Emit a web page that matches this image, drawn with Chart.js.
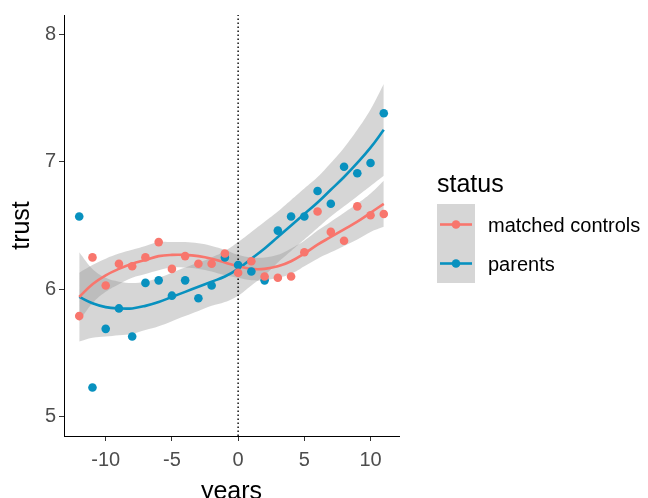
<!DOCTYPE html>
<html>
<head>
<meta charset="utf-8">
<script src="https://cdn.jsdelivr.net/npm/chart.js@4.4.1/dist/chart.umd.min.js"></script>
<style>
  html, body { margin: 0; padding: 0; background: #ffffff; }
  #myChart { display: block; }
</style>
</head>
<body>
<canvas id="myChart" width="648" height="498"></canvas>
<script>
var years = [-12, -11, -10, -9, -8, -7, -6, -5, -4, -3, -2, -1, 0, 1, 2, 3, 4, 5, 6, 7, 8, 9, 10, 11];

// raw yearly means
var controls = [5.79, 6.25, 6.03, 6.20, 6.18, 6.25, 6.37, 6.16, 6.26, 6.20, 6.20, 6.28, 6.13, 6.22, 6.10, 6.09, 6.10, 6.29, 6.61, 6.45, 6.38, 6.65, 6.58, 6.59];
var parents  = [6.57, 5.23, 5.69, 5.85, 5.63, 6.05, 6.07, 5.95, 6.07, 5.93, 6.03, 6.25, 6.19, 6.14, 6.07, 6.46, 6.57, 6.57, 6.77, 6.67, 6.96, 6.91, 6.99, 7.38];

// loess fits and their confidence bands
var controlsFit = [5.94, 6.04, 6.11, 6.16, 6.20, 6.23, 6.26, 6.27, 6.27, 6.26, 6.24, 6.21, 6.18, 6.16, 6.16, 6.18, 6.22, 6.28, 6.35, 6.41, 6.47, 6.53, 6.60, 6.67];
var controlsLo  = [5.75, 5.89, 5.98, 6.04, 6.09, 6.12, 6.15, 6.17, 6.17, 6.16, 6.14, 6.11, 6.09, 6.07, 6.07, 6.09, 6.12, 6.18, 6.24, 6.29, 6.34, 6.39, 6.45, 6.49];
var controlsHi  = [6.13, 6.19, 6.24, 6.28, 6.31, 6.34, 6.37, 6.37, 6.37, 6.36, 6.34, 6.31, 6.27, 6.25, 6.25, 6.27, 6.32, 6.38, 6.46, 6.53, 6.60, 6.67, 6.75, 6.85];

var parentsFit = [5.94, 5.89, 5.86, 5.85, 5.85, 5.87, 5.90, 5.94, 5.98, 6.02, 6.06, 6.10, 6.16, 6.24, 6.32, 6.41, 6.50, 6.59, 6.68, 6.78, 6.88, 6.99, 7.11, 7.25];
var parentsLo  = [5.59, 5.62, 5.63, 5.64, 5.65, 5.68, 5.71, 5.75, 5.79, 5.83, 5.87, 5.90, 5.95, 6.03, 6.11, 6.21, 6.30, 6.39, 6.48, 6.57, 6.65, 6.73, 6.81, 6.89];
var parentsHi  = [6.29, 6.16, 6.09, 6.06, 6.05, 6.06, 6.09, 6.13, 6.17, 6.21, 6.25, 6.30, 6.37, 6.45, 6.53, 6.61, 6.70, 6.79, 6.88, 6.99, 7.11, 7.25, 7.41, 7.61];

var seriesNames = ["matched controls", "parents"];
var seriesColors = ["#F8766D", "#0891BF"];
var xTicks = [-10, -5, 0, 5, 10];
var yTicks = [5, 6, 7, 8];
var xRange = [-13.15, 12.15];
var yRange = [4.85, 8.15];

var font = "'Liberation Sans', Arial, sans-serif";
var bandColor = "rgba(153,153,153,0.4)";

function pts(ys) {
    return years.map(function(x, i){ return {x: x, y: ys[i]}; });
}

function band(hi, lo, ord) {
    return [
        { data: pts(hi), borderWidth: 0, pointRadius: 0, tension: 0.4,
          backgroundColor: bandColor, fill: '+1', order: ord },
        { data: pts(lo), borderWidth: 0, pointRadius: 0, tension: 0.4,
          backgroundColor: bandColor, fill: false, order: ord }
    ];
}

function fitLine(ys, col) {
    return { data: pts(ys), borderColor: col, borderWidth: 2.6, pointRadius: 0,
             tension: 0.4, fill: false, order: 2 };
}

function dots(ys, col) {
    return { data: pts(ys), showLine: false, pointRadius: 4.3, borderWidth: 0,
             pointBackgroundColor: col, backgroundColor: col, order: 1 };
}

var datasets = []
    .concat(band(controlsHi, controlsLo, 5))
    .concat(band(parentsHi, parentsLo, 5))
    .concat([{
        data: [{x: 0, y: yRange[0]}, {x: 0, y: yRange[1]}],
        borderColor: "#000000", borderWidth: 1.4, borderDash: [1.4, 2.6],
        pointRadius: 0, fill: false, order: 3
    }])
    .concat([fitLine(controlsFit, seriesColors[0]), fitLine(parentsFit, seriesColors[1])])
    .concat([dots(controls, seriesColors[0]), dots(parents, seriesColors[1])]);

var legendPlugin = {
    id: 'statusLegend',
    afterDraw: function(chart) {
        var ctx = chart.ctx;
        ctx.save();
        ctx.fillStyle = "#000000";
        ctx.font = "25px " + font;
        ctx.textBaseline = "alphabetic";
        ctx.textAlign = "left";
        ctx.fillText("status", 437, 192);

        ctx.fillStyle = "#D6D6D6";
        ctx.fillRect(437, 204, 38, 79);

        var rows = [224.5, 263.5];
        seriesNames.forEach(function(name, i){
            var y = rows[i];
            ctx.strokeStyle = seriesColors[i];
            ctx.lineWidth = 2.6;
            ctx.beginPath();
            ctx.moveTo(440, y);
            ctx.lineTo(472, y);
            ctx.stroke();
            ctx.fillStyle = seriesColors[i];
            ctx.beginPath();
            ctx.arc(456, y, 4.3, 0, Math.PI * 2);
            ctx.fill();
            ctx.fillStyle = "#000000";
            ctx.font = "20px " + font;
            ctx.textBaseline = "middle";
            ctx.fillText(name, 488, y + 2);
        });
        ctx.restore();
    }
};

var options = {
    responsive: false,
    animation: false,
    events: [],
    layout: { padding: { left: 7, top: 15, right: 249, bottom: 0 } },
    plugins: {
        legend: { display: false },
        tooltip: { enabled: false }
    },
    scales: {
        x: {
            type: 'linear',
            min: xRange[0],
            max: xRange[1],
            afterBuildTicks: function(s){ s.ticks = xTicks.map(function(v){ return {value: v}; }); },
            afterFit: function(s){ s.height = 62; },
            grid: { drawOnChartArea: false, drawTicks: true, tickLength: 5, color: "#333333", lineWidth: 1 },
            border: { display: true, color: "#000000", width: 1 },
            ticks: { color: "#4D4D4D", font: { family: font, size: 20 }, padding: 7, maxRotation: 0 },
            title: { display: true, text: "years", color: "#000000", padding: 0,
                     font: { family: font, size: 25, lineHeight: 0.44 } }
        },
        y: {
            type: 'linear',
            min: yRange[0],
            max: yRange[1],
            afterBuildTicks: function(s){ s.ticks = yTicks.map(function(v){ return {value: v}; }); },
            afterFit: function(s){ s.width = 57; },
            grid: { drawOnChartArea: false, drawTicks: true, tickLength: 5, color: "#333333", lineWidth: 1 },
            border: { display: true, color: "#000000", width: 1 },
            ticks: { color: "#4D4D4D", font: { family: font, size: 20 }, padding: 3 },
            title: { display: true, text: "trust", color: "#000000", padding: 0,
                     font: { family: font, size: 25, lineHeight: 1.2 } }
        }
    }
};

var ctx = document.getElementById("myChart").getContext('2d');
var myChart = new Chart(ctx, {
    type: 'line',
    data: { datasets: datasets },
    options: options,
    plugins: [legendPlugin]
});
</script>
</body>
</html>
